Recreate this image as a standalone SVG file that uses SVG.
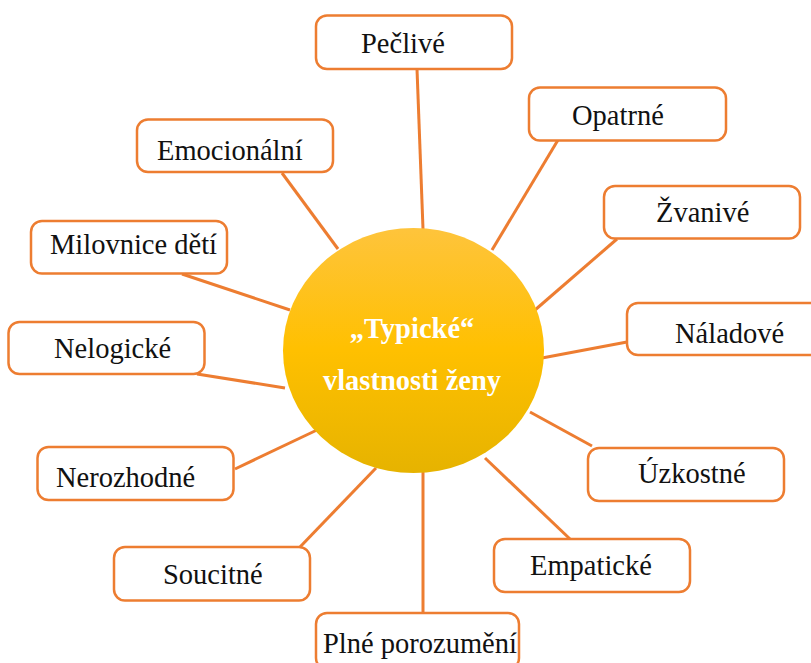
<svg xmlns="http://www.w3.org/2000/svg" width="811" height="663" viewBox="0 0 811 663">
  <style>
    .box rect { fill: #ffffff; stroke: #ED7D31; stroke-width: 2.5; }
    .box text { font-size: 28.5px; fill: #111111; }
    #connectors line { stroke: #ED7D31; stroke-width: 3; stroke-linecap: butt; }
    .hub-text { font-size: 28.5px; font-weight: bold; fill: #ffffff; text-anchor: middle; }
  </style>
  <defs>
    <linearGradient id="sun" x1="0" y1="0" x2="0" y2="1">
      <stop offset="0" stop-color="#FEC43C"/>
      <stop offset="0.5" stop-color="#FFC000"/>
      <stop offset="1" stop-color="#E6B300"/>
    </linearGradient>
  </defs>
  <rect width="811" height="663" fill="#ffffff"/>

  <!-- spokes from the hub to each trait -->
  <g id="connectors">
    <line x1="417" y1="69" x2="423" y2="229"/>
    <line x1="558" y1="140" x2="492" y2="250"/>
    <line x1="617" y1="239" x2="535" y2="310"/>
    <line x1="627" y1="342" x2="542" y2="358"/>
    <line x1="592" y1="446" x2="530" y2="412"/>
    <line x1="570" y1="539" x2="485" y2="458"/>
    <line x1="423" y1="613" x2="423" y2="472"/>
    <line x1="300" y1="547" x2="376" y2="468"/>
    <line x1="235" y1="469" x2="317" y2="430"/>
    <line x1="197" y1="374" x2="285" y2="388"/>
    <line x1="182" y1="274" x2="290" y2="310"/>
    <line x1="282" y1="173" x2="338" y2="249"/>
  </g>

  <g font-family="Liberation Serif, serif">
  <g id="hub">
    <ellipse cx="413.5" cy="350.5" rx="130.5" ry="122.5" fill="url(#sun)"/>
    <text class="hub-text" x="412" y="338">„Typické“</text>
    <text class="hub-text" x="412" y="390">vlastnosti ženy</text>
  </g>

  <g id="peclive" class="box">
    <rect x="316" y="15.5" width="196" height="53.5" rx="11"/>
    <text x="361" y="53">Pečlivé</text>
  </g>
  <g id="opatrne" class="box">
    <rect x="529" y="87.5" width="197" height="53" rx="11"/>
    <text x="572" y="125">Opatrné</text>
  </g>
  <g id="zvanive" class="box">
    <rect x="604" y="186" width="196" height="52.5" rx="11"/>
    <text x="656" y="222">Žvanivé</text>
  </g>
  <g id="naladove" class="box">
    <rect x="627" y="303" width="196" height="52" rx="11"/>
    <text x="675" y="343">Náladové</text>
  </g>
  <g id="uzkostne" class="box">
    <rect x="588" y="448" width="196" height="53" rx="11"/>
    <text x="638" y="483">Úzkostné</text>
  </g>
  <g id="empaticke" class="box">
    <rect x="494" y="539" width="196" height="53" rx="11"/>
    <text x="530" y="575">Empatické</text>
  </g>
  <g id="plne-porozumeni" class="box">
    <rect x="316" y="613" width="203" height="56" rx="11"/>
    <text x="323" y="653">Plné porozumění</text>
  </g>
  <g id="soucitne" class="box">
    <rect x="114" y="547" width="196" height="53.5" rx="11"/>
    <text x="163" y="584">Soucitné</text>
  </g>
  <g id="nerozhodne" class="box">
    <rect x="37.5" y="447" width="196" height="53" rx="11"/>
    <text x="56" y="487">Nerozhodné</text>
  </g>
  <g id="nelogicke" class="box">
    <rect x="8.5" y="322" width="196" height="52" rx="11"/>
    <text x="54" y="358">Nelogické</text>
  </g>
  <g id="milovnice-deti" class="box">
    <rect x="31" y="221" width="196" height="52.5" rx="11"/>
    <text x="50" y="254">Milovnice dětí</text>
  </g>
  <g id="emocionalni" class="box">
    <rect x="137" y="119.5" width="196" height="52.5" rx="11"/>
    <text x="157" y="160">Emocionální</text>
  </g>
  </g>
</svg>
